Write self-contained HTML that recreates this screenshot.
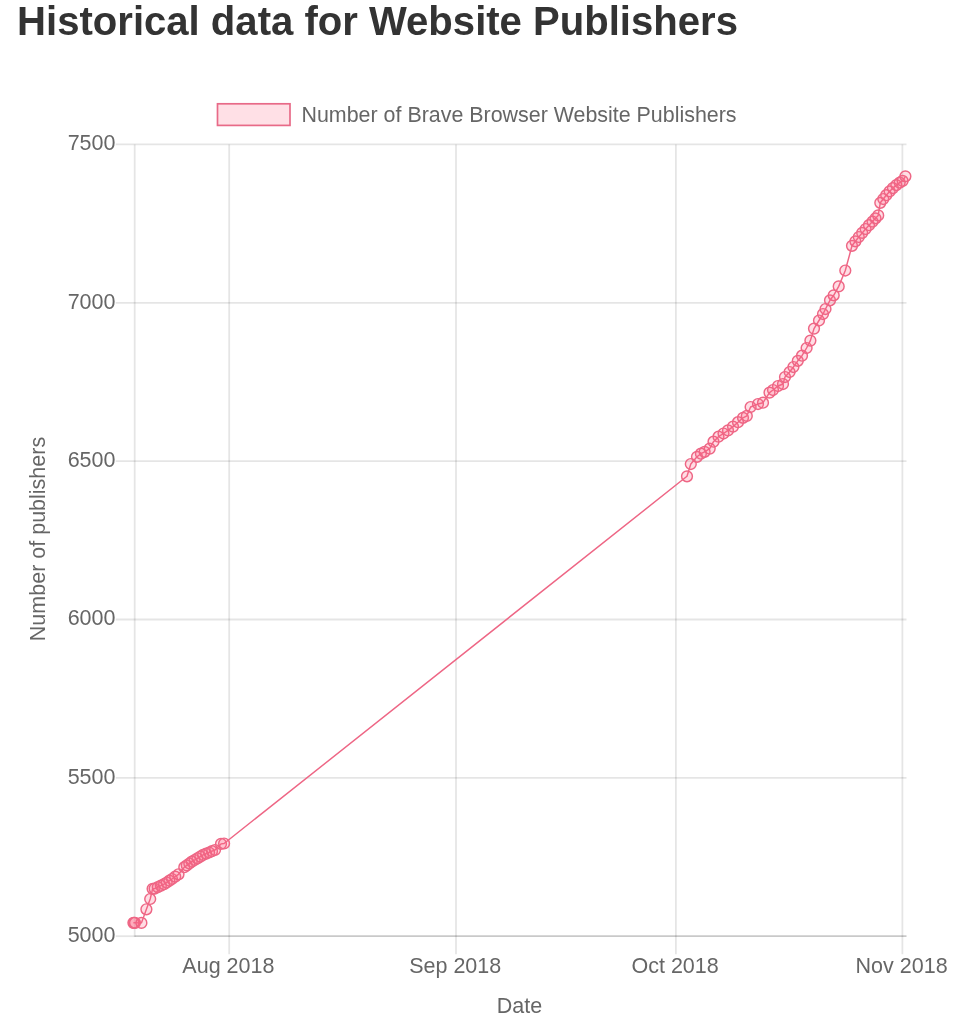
<!DOCTYPE html>
<html lang="en"><head><meta charset="utf-8"><title>Historical data for Website Publishers</title>
<style>
html,body{margin:0;padding:0;background:#fff;}
body{width:953px;height:1024px;overflow:hidden;position:relative;font-family:"Liberation Sans",Arial,Helvetica,sans-serif;}
h1{position:absolute;left:17.1px;top:-2.1px;margin:0;font-size:40.1px;line-height:46px;font-weight:bold;color:#333;white-space:nowrap;letter-spacing:0;}
svg{position:absolute;left:0;top:0;}
svg text{font-family:"Liberation Sans",Arial,Helvetica,sans-serif;font-size:21.5px;fill:#666;}
</style></head><body>
<h1>Historical data for Website Publishers</h1>
<svg width="953" height="1024" viewBox="0 0 953 1024">
<g><line x1="115.7" y1="936.2" x2="134.7" y2="936.2" stroke="rgba(0,0,0,0.1)" stroke-width="1.8"/>
<line x1="134.7" y1="936.2" x2="906.5" y2="936.2" stroke="rgba(0,0,0,0.21)" stroke-width="1.8"/>
<line x1="115.7" y1="777.8" x2="906.5" y2="777.8" stroke="rgba(0,0,0,0.1)" stroke-width="1.8"/>
<line x1="115.7" y1="619.5" x2="906.5" y2="619.5" stroke="rgba(0,0,0,0.1)" stroke-width="1.8"/>
<line x1="115.7" y1="461.1" x2="906.5" y2="461.1" stroke="rgba(0,0,0,0.1)" stroke-width="1.8"/>
<line x1="115.7" y1="302.8" x2="906.5" y2="302.8" stroke="rgba(0,0,0,0.1)" stroke-width="1.8"/>
<line x1="115.7" y1="144.4" x2="906.5" y2="144.4" stroke="rgba(0,0,0,0.1)" stroke-width="1.8"/>
<line x1="134.7" y1="144.4" x2="134.7" y2="937.1" stroke="rgba(0,0,0,0.1)" stroke-width="1.8"/>
<line x1="229.2" y1="144.4" x2="229.2" y2="954.2" stroke="rgba(0,0,0,0.1)" stroke-width="1.8"/>
<line x1="456.0" y1="144.4" x2="456.0" y2="954.2" stroke="rgba(0,0,0,0.1)" stroke-width="1.8"/>
<line x1="675.9" y1="144.4" x2="675.9" y2="954.2" stroke="rgba(0,0,0,0.1)" stroke-width="1.8"/>
<line x1="902.4" y1="144.4" x2="902.4" y2="954.2" stroke="rgba(0,0,0,0.1)" stroke-width="1.8"/></g>
<rect x="217.5" y="103.8" width="72.5" height="21.6" fill="rgba(255,99,132,0.2)" stroke="rgb(232,106,136)" stroke-width="1.7"/>
<text x="301.5" y="121.7" style="font-size:21.42px">Number of Brave Browser Website Publishers</text>
<text x="115.5" y="942.1" text-anchor="end">5000</text>
<text x="115.5" y="783.7" text-anchor="end">5500</text>
<text x="115.5" y="625.4" text-anchor="end">6000</text>
<text x="115.5" y="467.0" text-anchor="end">6500</text>
<text x="115.5" y="308.7" text-anchor="end">7000</text>
<text x="115.5" y="150.3" text-anchor="end">7500</text>
<text x="228.39999999999998" y="972.5" text-anchor="middle">Aug 2018</text>
<text x="455.2" y="972.5" text-anchor="middle">Sep 2018</text>
<text x="675.1" y="972.5" text-anchor="middle">Oct 2018</text>
<text x="901.6" y="972.5" text-anchor="middle">Nov 2018</text>
<text x="519.5" y="1012.7" text-anchor="middle">Date</text>
<text transform="translate(44.5,539) rotate(-90)" text-anchor="middle">Number of publishers</text>
<path d="M133.4,922.8 L134.2,922.8 L135.0,922.8 L141.4,922.9 L146.4,909.3 L150.2,899.0 L152.6,888.8 L154.6,888.6 L157.8,887.1 L160.9,885.7 L164.1,884.2 L166.7,882.5 L169.4,880.7 L172.0,879.0 L175.2,876.6 L178.5,874.3 L184.3,867.2 L186.8,865.4 L189.3,863.5 L191.8,861.7 L194.6,860.0 L197.4,858.3 L200.3,856.6 L203.1,854.9 L206.1,853.7 L209.1,852.5 L212.0,851.2 L215.0,850.0 L221.0,843.9 L224.1,843.5 L687.0,476.3 L690.8,464.0 L697.0,456.8 L700.9,453.7 L704.6,451.8 L709.7,448.6 L713.5,441.7 L718.5,436.7 L723.5,433.5 L728.0,430.4 L733.0,426.6 L738.0,422.2 L743.0,417.8 L746.8,415.9 L750.6,407.0 L758.0,404.0 L763.0,402.7 L769.5,392.6 L773.0,390.0 L778.0,386.0 L783.0,384.0 L785.0,377.0 L789.6,372.0 L793.4,367.0 L797.8,360.8 L802.0,355.7 L806.6,348.0 L810.4,340.6 L814.0,328.6 L819.0,320.5 L823.0,314.0 L825.5,309.0 L830.0,300.3 L833.7,295.3 L838.7,286.4 L845.3,270.5 L852.0,245.8 L855.4,241.3 L858.8,237.0 L862.2,232.9 L865.6,229.0 L869.0,225.2 L872.5,221.6 L875.5,218.3 L878.2,215.4 L880.3,202.8 L883.3,199.0 L886.2,195.2 L889.6,191.4 L892.9,188.1 L896.3,185.1 L899.7,182.6 L902.6,180.9 L905.4,176.3" fill="none" stroke="rgb(238,102,133)" stroke-width="1.45" stroke-linejoin="round"/>
<g fill="rgba(255,99,132,0.22)" stroke="rgb(238,102,133)" stroke-width="1.45">
<circle cx="133.4" cy="922.8" r="5.4"/><circle cx="134.2" cy="922.8" r="5.4"/><circle cx="135.0" cy="922.8" r="5.4"/><circle cx="141.4" cy="922.9" r="5.4"/><circle cx="146.4" cy="909.3" r="5.4"/><circle cx="150.2" cy="899.0" r="5.4"/><circle cx="152.6" cy="888.8" r="5.4"/><circle cx="154.6" cy="888.6" r="5.4"/><circle cx="157.8" cy="887.1" r="5.4"/><circle cx="160.9" cy="885.7" r="5.4"/><circle cx="164.1" cy="884.2" r="5.4"/><circle cx="166.7" cy="882.5" r="5.4"/><circle cx="169.4" cy="880.7" r="5.4"/><circle cx="172.0" cy="879.0" r="5.4"/><circle cx="175.2" cy="876.6" r="5.4"/><circle cx="178.5" cy="874.3" r="5.4"/><circle cx="184.3" cy="867.2" r="5.4"/><circle cx="186.8" cy="865.4" r="5.4"/><circle cx="189.3" cy="863.5" r="5.4"/><circle cx="191.8" cy="861.7" r="5.4"/><circle cx="194.6" cy="860.0" r="5.4"/><circle cx="197.4" cy="858.3" r="5.4"/><circle cx="200.3" cy="856.6" r="5.4"/><circle cx="203.1" cy="854.9" r="5.4"/><circle cx="206.1" cy="853.7" r="5.4"/><circle cx="209.1" cy="852.5" r="5.4"/><circle cx="212.0" cy="851.2" r="5.4"/><circle cx="215.0" cy="850.0" r="5.4"/><circle cx="221.0" cy="843.9" r="5.4"/><circle cx="224.1" cy="843.5" r="5.4"/><circle cx="687.0" cy="476.3" r="5.4"/><circle cx="690.8" cy="464.0" r="5.4"/><circle cx="697.0" cy="456.8" r="5.4"/><circle cx="700.9" cy="453.7" r="5.4"/><circle cx="704.6" cy="451.8" r="5.4"/><circle cx="709.7" cy="448.6" r="5.4"/><circle cx="713.5" cy="441.7" r="5.4"/><circle cx="718.5" cy="436.7" r="5.4"/><circle cx="723.5" cy="433.5" r="5.4"/><circle cx="728.0" cy="430.4" r="5.4"/><circle cx="733.0" cy="426.6" r="5.4"/><circle cx="738.0" cy="422.2" r="5.4"/><circle cx="743.0" cy="417.8" r="5.4"/><circle cx="746.8" cy="415.9" r="5.4"/><circle cx="750.6" cy="407.0" r="5.4"/><circle cx="758.0" cy="404.0" r="5.4"/><circle cx="763.0" cy="402.7" r="5.4"/><circle cx="769.5" cy="392.6" r="5.4"/><circle cx="773.0" cy="390.0" r="5.4"/><circle cx="778.0" cy="386.0" r="5.4"/><circle cx="783.0" cy="384.0" r="5.4"/><circle cx="785.0" cy="377.0" r="5.4"/><circle cx="789.6" cy="372.0" r="5.4"/><circle cx="793.4" cy="367.0" r="5.4"/><circle cx="797.8" cy="360.8" r="5.4"/><circle cx="802.0" cy="355.7" r="5.4"/><circle cx="806.6" cy="348.0" r="5.4"/><circle cx="810.4" cy="340.6" r="5.4"/><circle cx="814.0" cy="328.6" r="5.4"/><circle cx="819.0" cy="320.5" r="5.4"/><circle cx="823.0" cy="314.0" r="5.4"/><circle cx="825.5" cy="309.0" r="5.4"/><circle cx="830.0" cy="300.3" r="5.4"/><circle cx="833.7" cy="295.3" r="5.4"/><circle cx="838.7" cy="286.4" r="5.4"/><circle cx="845.3" cy="270.5" r="5.4"/><circle cx="852.0" cy="245.8" r="5.4"/><circle cx="855.4" cy="241.3" r="5.4"/><circle cx="858.8" cy="237.0" r="5.4"/><circle cx="862.2" cy="232.9" r="5.4"/><circle cx="865.6" cy="229.0" r="5.4"/><circle cx="869.0" cy="225.2" r="5.4"/><circle cx="872.5" cy="221.6" r="5.4"/><circle cx="875.5" cy="218.3" r="5.4"/><circle cx="878.2" cy="215.4" r="5.4"/><circle cx="880.3" cy="202.8" r="5.4"/><circle cx="883.3" cy="199.0" r="5.4"/><circle cx="886.2" cy="195.2" r="5.4"/><circle cx="889.6" cy="191.4" r="5.4"/><circle cx="892.9" cy="188.1" r="5.4"/><circle cx="896.3" cy="185.1" r="5.4"/><circle cx="899.7" cy="182.6" r="5.4"/><circle cx="902.6" cy="180.9" r="5.4"/><circle cx="905.4" cy="176.3" r="5.4"/>
</g>
</svg>
</body></html>
